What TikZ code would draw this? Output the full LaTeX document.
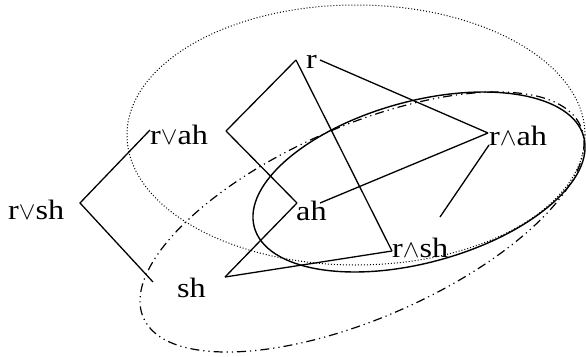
\documentclass[tikz,border=0pt]{standalone}
\usepackage{fontspec}
\setmainfont{Liberation Serif}[FakeStretch=1.15]
\begin{document}
\begin{tikzpicture}[x=1pt,y=-1pt,
  lbl/.style={anchor=base west,inner sep=0pt,font=\fontsize{28}{30}\selectfont},
  edge/.style={line width=1.3pt},
  dotell/.style={line width=1pt,dash pattern=on 1pt off 2pt},
  dashdotdot/.style={line width=1.2pt,dash pattern=on 9pt off 4pt on 1.2pt off 4pt on 1.2pt off 4pt},
  solidell/.style={line width=1.4pt}]
\useasboundingbox (0,0) rectangle (586,356);
% ellipses
\draw[dotell] (356,135) ellipse [x radius=229pt, y radius=130pt];
\draw[solidell,rotate around={15.4:(419,182)}] (419,182) ellipse [x radius=170.8pt, y radius=80.6pt];
\draw[dashdotdot,rotate around={23.65:(362,222)}] (362,222) ellipse [x radius=238.7pt, y radius=96pt];
% labels
\node[lbl] (lr) at (306,68) {r};
\node[lbl] (lrvah) at (150,144) {r$\vee$ah};
\node[lbl] (lrah) at (489,145) {r$\wedge$ah};
\node[lbl] (lrvsh) at (8,219) {r$\vee$sh};
\node[lbl] (lah) at (296,220) {ah};
\node[lbl] (lrsh) at (392,257) {r$\wedge$sh};
\node[lbl] (lsh) at (177,297) {sh};
% connector end points
\coordinate (rv) at (296,60);
\coordinate (rr) at (320,60);
\coordinate (rvah) at (226,131);
\coordinate (rvahL) at (150,130);
\coordinate (rvsh) at (80,203);
\coordinate (shU) at (153,282);
\coordinate (sh) at (225,277);
\coordinate (ahL) at (297,203);
\coordinate (ahR) at (320,203);
\coordinate (rah) at (488,133);
\coordinate (rahB) at (489,145);
\coordinate (xx) at (440,217);
\coordinate (rsh) at (392,251);
% connectors
\draw[edge] (rv) -- (rvah);
\draw[edge] (rvah) -- (ahL);
\draw[edge] (rv) -- (rsh);
\draw[edge] (rr) -- (rah);
\draw[edge] (rvahL) -- (rvsh) -- (shU);
\draw[edge] (sh) -- (ahL);
\draw[edge] (sh) -- (rsh);
\draw[edge] (ahR) -- (rah);
\draw[edge] (rahB) -- (xx);
\end{tikzpicture}
\end{document}
